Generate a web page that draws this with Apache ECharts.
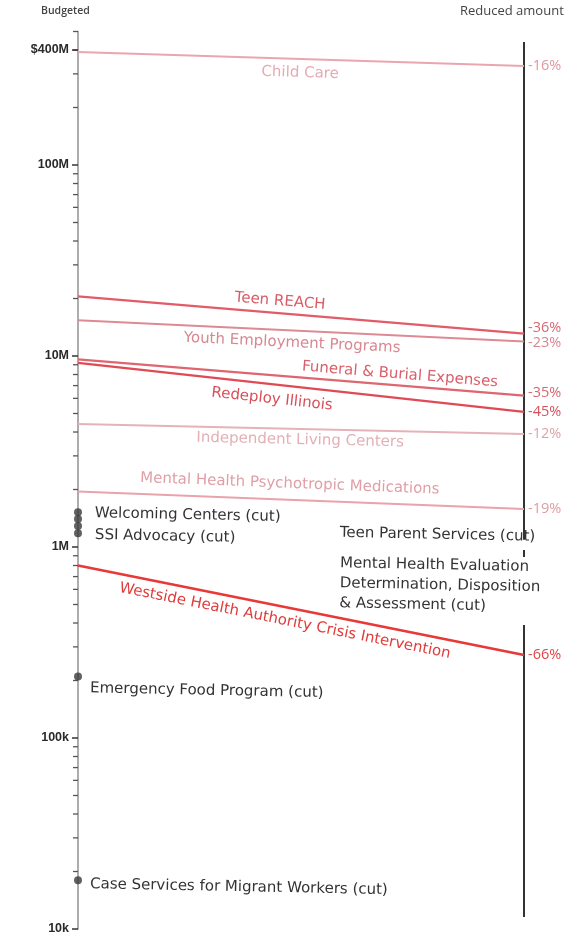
<!DOCTYPE html>
<html>
<head>
<meta charset="utf-8">
<script src="https://cdn.jsdelivr.net/npm/echarts/dist/echarts.min.js"></script>
<style>html,body{margin:0;padding:0;background:#fff}#c{width:580px;height:938px}</style>
</head>
<body>
<div id="c"></div>
<script>
// ---- data ----
const programs = ['Child Care','Teen REACH','Youth Employment Programs','Funeral & Burial Expenses','Redeploy Illinois','Independent Living Centers','Mental Health Psychotropic Medications','Westside Health Authority Crisis Intervention'];
const budgeted = [390e6, 20.5e6, 15.4e6, 9.6e6, 9.2e6, 4.4e6, 1.95e6, 0.80e6];
const reduced  = [330e6, 13.1e6, 11.9e6, 6.2e6, 5.1e6, 3.9e6, 1.58e6, 0.272e6];
const changeLabels = ['-16%','-36%','-23%','-35%','-45%','-12%','-19%','-66%'];
const cutPrograms = ['Welcoming Centers (cut)','SSI Advocacy (cut)','Teen Parent Services (cut)','Mental Health Evaluation\nDetermination, Disposition\n& Assessment (cut)','Emergency Food Program (cut)','Case Services for Migrant Workers (cut)'];
const cutBudgets = [1.52e6, 1.40e6, 1.29e6, 1.18e6, 0.21e6, 0.018e6];
const tickValues = [1e4, 1e5, 1e6, 1e7, 1e8, 4e8];
const tickLabels = ['10k','100k','1M','10M','100M','$400M'];
const axisMin = 1e4, axisMax = 5e8;

// ---- styles / placement (not data) ----
const lineColors  = ['#eaa6ae','#e15c67','#dc8a94','#dd6670','#e04a55','#e6b2b7','#e8a3ab','#e83838'];
const textColors  = ['#e6aab2','#d95c67','#d98892','#d9606b','#d84f5a','#e2b0b5','#e09fa7','#e03c3c'];
const pctColors   = ['#e297a0','#d86872','#d98690','#d66870','#d6505a','#dfa2a8','#e09ca4','#e04646'];
const pctOffsets  = [0, -6, 1, -3, 0, 0, 0, 0];
const lineWidths  = [2,2.2,2,2.2,2.2,2,2,2.6];
const lineLabelPlace = [
  {t:0.498, dy:14}, {t:0.453, dy:-12}, {t:0.48, dy:12.5}, {t:0.722, dy:-11},
  {t:0.435, dy:15}, {t:0.498, dy:11}, {t:0.475, dy:-16}, {t:0.464, dy:14}
];
const cutLabelPlace = [
  {t:0.038, dy:1}, {t:0.038, dy:16}, {t:0.587, dy:7}, {t:0.587, dy:50}, {t:0.027, dy:12}, {t:0.027, dy:4}
];
const rightAxisSegments = [[440e6, 1.09e6], [0.964e6, 0.886e6], [0.391e6, 11.55e3]];

const minorTicks = [];
for (let d = 1e4; d < axisMax; d *= 10) {
  for (let k = 2; k <= 9; k++) { const v = d * k; if (v <= axisMax + 1) minorTicks.push(v); }
}

const FONT = '"DejaVu Sans", "Open Sans", sans-serif';
const chart = echarts.init(document.getElementById('c'), null, {renderer:'canvas'});

const series = [];
programs.forEach((p, i) => {
  series.push({
    type:'line', name:p, silent:true, symbol:'none', z:3,
    lineStyle:{color:lineColors[i], width:lineWidths[i]},
    data:[[0, budgeted[i]], [1, reduced[i]]],
    endLabel:{show:true, distance:4, offset:[0, pctOffsets[i]], formatter: changeLabels[i], color:pctColors[i],
      fontFamily:'"Open Sans", sans-serif', fontSize:14.5}
  });
});

// line labels
series.push({
  type:'custom', silent:true, z:4,
  data: programs.map((p, i) => [0, budgeted[i], i]),
  renderItem(params, api) {
    const i = api.value(2);
    const p0 = api.coord([0, budgeted[i]]), p1 = api.coord([1, reduced[i]]);
    const pl = lineLabelPlace[i];
    const x = p0[0] + (p1[0] - p0[0]) * pl.t;
    const y = p0[1] + (p1[1] - p0[1]) * pl.t + pl.dy;
    const rot = -Math.atan2(p1[1] - p0[1], p1[0] - p0[0]);
    return {type:'text', x, y, rotation:rot,
      style:{text:programs[i], x:0, y:0, align:'center', verticalAlign:'middle',
        fill:textColors[i], font:'15px ' + FONT}};
  }
});

// cut program dots
series.push({
  type:'scatter', silent:true, z:5, symbol:'circle', symbolSize:8,
  itemStyle:{color:'#3a3a3a'},
  data: cutBudgets.map(v => [0, v])
});

// cut program labels
series.push({
  type:'custom', silent:true, z:5,
  data: cutBudgets.map((v, i) => [0, v, i]),
  renderItem(params, api) {
    const i = api.value(2);
    const p0 = api.coord([0, cutBudgets[i]]), p1 = api.coord([1, cutBudgets[i]]);
    const pl = cutLabelPlace[i];
    return {type:'text', x: p0[0] + (p1[0] - p0[0]) * pl.t, y: p0[1] + pl.dy, rotation:-0.02,
      style:{text:cutPrograms[i], x:0, y:0, align:'left', verticalAlign:'middle',
        fill:'#333', font:'15px ' + FONT, lineHeight:20}};
  }
});

// minor ticks
series.push({
  type:'custom', silent:true, z:2,
  data: minorTicks.map(v => [0, v]),
  renderItem(params, api) {
    const p = api.coord([0, api.value(1)]);
    return {type:'line', shape:{x1:p[0]-5, y1:p[1], x2:p[0], y2:p[1]}, style:{stroke:'#555', lineWidth:1.3}};
  }
});

// major ticks + labels
series.push({
  type:'custom', silent:true, z:2,
  data: tickValues.map((v, i) => [0, v, i]),
  renderItem(params, api) {
    const i = api.value(2);
    const p = api.coord([0, tickValues[i]]);
    return {type:'group', children:[
      {type:'line', shape:{x1:p[0]-6, y1:p[1], x2:p[0], y2:p[1]}, style:{stroke:'#333', lineWidth:1.5}},
      {type:'text', style:{text:tickLabels[i], x:p[0]-9, y:p[1], align:'right', verticalAlign:'middle',
        fill:'#2a2a2a', font:'bold 12.5px "Liberation Sans", Arial, sans-serif'}}
    ]};
  }
});

// right axis
series.push({
  type:'custom', silent:true, z:2,
  data: rightAxisSegments.map(s => [1, s[0], s[1]]),
  renderItem(params, api) {
    const a = api.coord([1, api.value(1)]), b = api.coord([1, api.value(2)]);
    return {type:'line', shape:{x1:a[0], y1:a[1], x2:b[0], y2:b[1]}, style:{stroke:'#333', lineWidth:2}};
  }
});

chart.setOption({
  animation:false,
  backgroundColor:'#fff',
  grid:{left:78, right:56, top:31.5, bottom:9, containLabel:false},
  xAxis:{type:'value', min:0, max:1, show:false},
  yAxis:{type:'log', logBase:10, min:axisMin, max:axisMax,
    axisLine:{show:true, lineStyle:{color:'#999', width:1.6}},
    axisTick:{show:false}, axisLabel:{show:false}, splitLine:{show:false}},
  graphic:[
    {type:'text', left:41, top:6, style:{text:'Budgeted', fill:'#444', font:'600 10.5px "Open Sans", sans-serif'}},
    {type:'text', left:460, top:5, style:{text:'Reduced amount', fill:'#444', font:'13px "Open Sans", sans-serif'}}
  ],
  series
});
</script>
</body>
</html>
